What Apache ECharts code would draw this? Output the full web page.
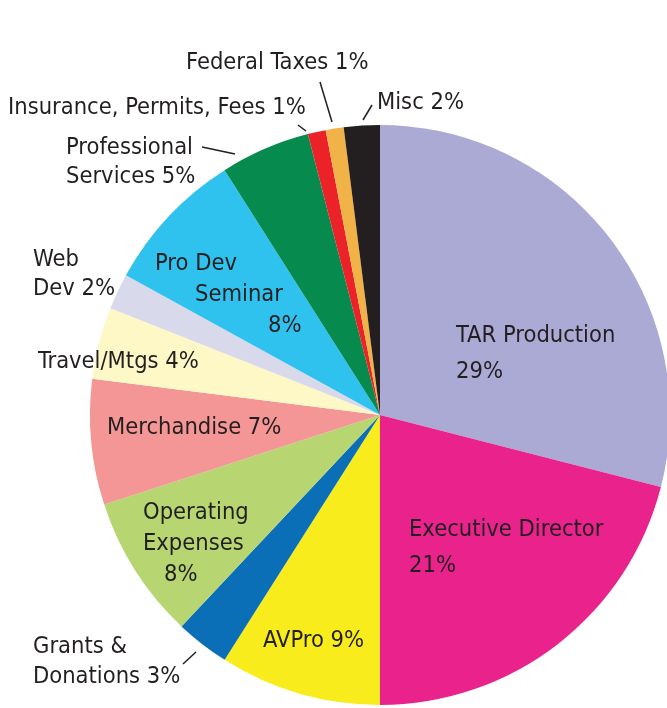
<!DOCTYPE html>
<html>
<head>
<meta charset="utf-8">
<script src="https://cdn.jsdelivr.net/npm/echarts@6/dist/echarts.min.js"></script>
<style>
html,body{margin:0;padding:0;background:#fff;}
#chart{width:667px;height:708px;}
</style>
</head>
<body>
<div id="chart"></div>
<script>
// ---- data ----
var categories = ['TAR Production','Executive Director','AVPro','Grants & Donations','Operating Expenses','Merchandise','Travel/Mtgs','Web Dev','Pro Dev Seminar','Professional Services','Insurance, Permits, Fees','Federal Taxes','Misc'];
var percents = [29, 21, 9, 3, 8, 7, 4, 2, 8, 5, 1, 1, 2];

// ---- styles ----
var colors = ['#AAAAD5','#EA228C','#F9EC1C','#0A6FB6','#B7D672','#F49695','#FDF8C5','#D9D9EC','#30C2EE','#078A4E','#EC2229','#F1B247','#231F20'];
var FONT = '"Liberation Sans Narrow","DejaVu Sans Condensed","Noto Sans",sans-serif';
var FS = 23.5;
var TXT = '#231F20';
// label text line splits (formatting only)
var labelLines = {
  'TAR Production': ['TAR Production', '%'],
  'Executive Director': ['Executive Director', '%'],
  'AVPro': ['AVPro %'],
  'Grants & Donations': ['Grants &', 'Donations %'],
  'Operating Expenses': ['Operating', 'Expenses', '%'],
  'Merchandise': ['Merchandise %'],
  'Travel/Mtgs': ['Travel/Mtgs %'],
  'Web Dev': ['Web', 'Dev %'],
  'Pro Dev Seminar': ['Pro Dev', 'Seminar', '%'],
  'Professional Services': ['Professional', 'Services %'],
  'Insurance, Permits, Fees': ['Insurance, Permits, Fees %'],
  'Federal Taxes': ['Federal Taxes %'],
  'Misc': ['Misc %']
};
// per-line left indents (px) for staggered labels
var lineIndent = {
  'Pro Dev Seminar': [0, 40, 113],
  'Operating Expenses': [0, 0, 21]
};
// label block top-left positions and line heights
var labelBox = {
  'TAR Production': [456, 318, 36],
  'Executive Director': [409, 512, 36],
  'AVPro': [263, 626, 30],
  'Grants & Donations': [33, 632, 30],
  'Operating Expenses': [143, 497, 31],
  'Merchandise': [107, 413, 30],
  'Travel/Mtgs': [38, 347, 30],
  'Web Dev': [33, 245, 29],
  'Pro Dev Seminar': [155, 248, 31],
  'Professional Services': [66, 133, 29],
  'Insurance, Permits, Fees': [8, 93, 30],
  'Federal Taxes': [186, 48, 30],
  'Misc': [377, 88, 30]
};
// detached leader lines
var leaders = {
  'Grants & Donations': [[183, 664], [196, 652]],
  'Professional Services': [[202, 147], [235, 154]],
  'Insurance, Permits, Fees': [[298, 125], [306, 131]],
  'Federal Taxes': [[320, 82], [332, 122]],
  'Misc': [[372, 105], [363, 120]]
};

var seriesData = categories.map(function (name, i) {
  var ind = lineIndent[name] || [0, 0, 0];
  var lh = labelBox[name][2];
  var r = {};
  [0, 1, 2].forEach(function (k) {
    r['l' + k] = { fontFamily: FONT, fontSize: FS, color: TXT, lineHeight: lh, padding: [0, 0, 0, ind[k]] };
  });
  return {
    name: name,
    value: percents[i],
    itemStyle: { color: colors[i] },
    labelLine: { show: !!leaders[name] },
    label: { rich: r }
  };
});

var chart = echarts.init(document.getElementById('chart'), null, { renderer: 'canvas' });
chart.setOption({
  backgroundColor: '#ffffff',
  animation: false,
  series: [{
    type: 'pie',
    center: [380, 415],
    radius: 290,
    startAngle: 90,
    clockwise: true,
    avoidLabelOverlap: false,
    data: seriesData,
    itemStyle: { borderWidth: 0 },
    label: {
      show: true,
      position: 'outside',
      fontFamily: FONT,
      fontSize: FS,
      color: TXT,
      formatter: function (p) {
        return labelLines[p.name].map(function (s, k) {
          return '{l' + k + '|' + s.replace('%', p.value + '%') + '}';
        }).join('\n');
      }
    },
    labelLine: {
      show: false,
      lineStyle: { color: TXT, width: 1.5 }
    },
    labelLayout: function (params) {
      var name = categories[params.dataIndex];
      var b = labelBox[name];
      var out = { x: b[0], y: b[1], align: 'left', verticalAlign: 'top' };
      if (leaders[name]) {
        var L = leaders[name];
        out.labelLinePoints = [L[0], L[0], L[1]];
      }
      return out;
    }
  }]
});
</script>
</body>
</html>
